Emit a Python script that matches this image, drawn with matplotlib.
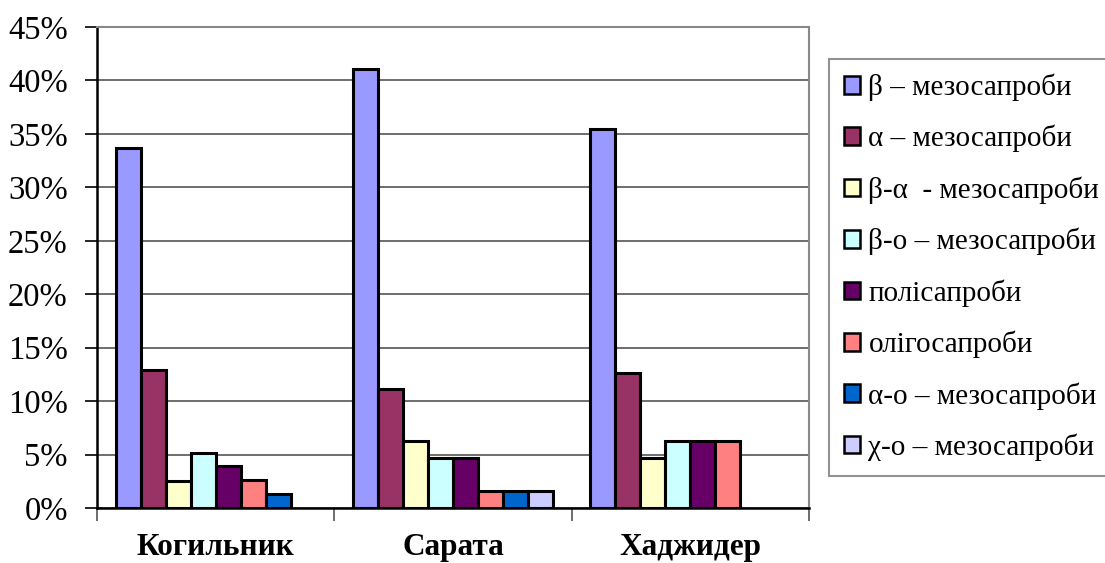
import matplotlib
matplotlib.use("Agg")
import matplotlib.pyplot as plt
import numpy as np
from matplotlib.ticker import PercentFormatter

plt.rcParams['font.family'] = ['Liberation Serif', 'DejaVu Serif']

rivers = ["Когильник", "Сарата", "Хаджидер"]
groups = [
    "β – мезосапроби",
    "α – мезосапроби",
    "β-α  - мезосапроби",
    "β-о – мезосапроби",
    "полісапроби",
    "олігосапроби",
    "α-о – мезосапроби",
    "χ-о – мезосапроби",
]
# share of species per saprobity group, % (rows follow `groups`)
beta_meso = [33.7, 41.1, 35.5]
alpha_meso = [12.9, 11.1, 12.6]
beta_alpha_meso = [2.5, 6.3, 4.7]
beta_o_meso = [5.1, 4.7, 6.3]
polysaprobes = [3.9, 4.7, 6.3]
oligosaprobes = [2.6, 1.6, 6.3]
alpha_o_meso = [1.3, 1.6, 0.0]
chi_o_meso = [0.0, 1.6, 0.0]
series = [beta_meso, alpha_meso, beta_alpha_meso, beta_o_meso,
          polysaprobes, oligosaprobes, alpha_o_meso, chi_o_meso]
colors = ["#9999FF", "#993366", "#FFFFCC", "#CCFFFF",
          "#660066", "#FF8080", "#0066CC", "#CCCCFF"]

fig = plt.figure(figsize=(11.05, 5.63), dpi=100)
ax = fig.add_axes([97 / 1105, 55 / 563, 712 / 1105, 481 / 563])

n = len(series)
gap = 1.5
w = 1.0 / (n + gap)
x = np.arange(len(rivers))
handles = []
for i, (vals, c, lab) in enumerate(zip(series, colors, groups)):
    pos = x - 0.5 + (gap / 2 + i + 0.5) * w
    v = np.array(vals, dtype=float)
    h = ax.bar(pos, np.where(v > 0, v, np.nan), width=w, color=c,
               edgecolor="black", linewidth=2.2, label=lab, zorder=3)
    handles.append(h)

ax.set_xlim(-0.5, len(rivers) - 0.5)
ax.set_ylim(0, 45)
ax.set_yticks(np.arange(0, 46, 5))
ax.yaxis.set_major_formatter(PercentFormatter(decimals=0))
ax.grid(axis="y", color="#555555", linewidth=1.2, zorder=0)

ax.set_xticks(np.arange(-0.5, len(rivers), 1.0))
ax.set_xticklabels([])
ax.set_xticks(x, minor=True)
ax.set_xticklabels(rivers, minor=True, fontsize=22.5, fontweight="bold")
ax.tick_params(axis="x", which="minor", length=0, pad=18)
ax.tick_params(axis="x", which="major", length=9, width=1.2, color="#555555")
ax.tick_params(axis="y", length=9, width=1.2, labelsize=23.5, pad=12)

for side in ("top", "right"):
    ax.spines[side].set_color("#888888")
    ax.spines[side].set_linewidth(1.5)
ax.spines["left"].set_linewidth(1.8)
ax.spines["bottom"].set_linewidth(1.8)

leg = fig.legend(handles=handles, loc="upper left",
                 bbox_to_anchor=(829 / 1105, 1 - 59 / 563),
                 fontsize=21, frameon=True, fancybox=False,
                 edgecolor="#777777", handlelength=0.55, handleheight=0.55,
                 handletextpad=0.3, labelspacing=0.82, borderpad=0.5,
                 borderaxespad=0)
leg.get_frame().set_linewidth(1.5)
for p in leg.get_patches():
    p.set_linewidth(1.8)

fig.savefig("out.png", dpi=100)
